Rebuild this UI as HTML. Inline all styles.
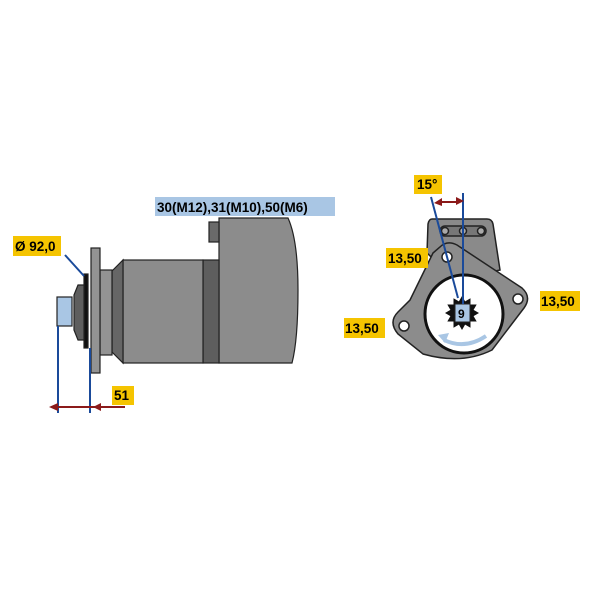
<!DOCTYPE html>
<html><head><style>html,body{margin:0;padding:0;background:#fff}svg{display:block}text{font-family:"Liberation Sans",sans-serif;font-weight:bold}</style></head>
<body>
<svg width="600" height="600" viewBox="0 0 600 600">
<rect width="600" height="600" fill="#fff"/>
<g stroke="#222" stroke-width="1.2">
<path d="M219 218 H288 Q298 240 298 290 Q298 340 292 363 H219 Z" fill="#8c8c8c"/>
<rect x="209" y="222" width="10" height="20" fill="#6a6a6a"/>
<rect x="203" y="260" width="16" height="103" fill="#5e5e5e"/>
<rect x="123" y="260" width="80" height="103" fill="#8c8c8c"/>
<path d="M112 271 L123 260 V363 L112 352 Z" fill="#666"/>
<rect x="100" y="270" width="12" height="85" fill="#939393"/>
<rect x="91" y="248" width="9" height="125" fill="#939393"/>
<rect x="84" y="274" width="4" height="74" fill="#111"/>
<path d="M78 285 H84 V340 H78 L74 330 V295 Z" fill="#5e5e5e"/>
<rect x="57" y="297" width="15" height="29" fill="#a9c6e4"/>
</g>
<g stroke="#1a4a9a" stroke-width="2" fill="none">
<line x1="58" y1="326" x2="58" y2="413"/>
<line x1="90" y1="348" x2="90" y2="413"/>
<line x1="65" y1="255" x2="84" y2="276"/>
</g>
<line x1="52" y1="407" x2="125" y2="407" stroke="#8b1a1a" stroke-width="2"/>
<path d="M49 407 L58 403 V411 Z M93 407 L101 403 V411 Z" fill="#8b1a1a"/>
<rect x="155" y="197" width="180" height="19" fill="#a9c6e4"/>
<text x="157" y="212" font-size="13.5">30(M12),31(M10),50(M6)</text>
<rect x="13" y="236" width="48" height="20" fill="#f5c400"/>
<text x="15" y="251" font-size="13.5">Ø 92,0</text>
<rect x="112" y="386" width="22" height="19" fill="#f5c400"/>
<text x="114" y="400" font-size="13.5">51</text>
<g stroke="#222" stroke-width="1.5">
<path d="M432 219 H487 Q492 219 493 224 L500 270 L455 280 L427 253 L428 224 Q429 219 432 219 Z" fill="#8a8a8a"/>
<path d="M440 247 Q447 240 457 245 L522 288 Q532 297 524 308 L492 350 Q462 365 423 354 L398 334 Q388 322 398 312 L410 300 L433 253 Z" fill="#8c8c8c"/>
<circle cx="464" cy="314" r="39" fill="#fff" stroke="#111" stroke-width="3"/>
<circle cx="447" cy="257" r="5" fill="#fff"/>
<circle cx="518" cy="299" r="5" fill="#fff"/>
<circle cx="404" cy="326" r="5" fill="#fff"/>
<rect x="440" y="226" width="46" height="10" rx="5" fill="#777"/>
<circle cx="445" cy="231" r="3.5" fill="#aaa"/>
<circle cx="463" cy="231" r="3.5" fill="#aaa"/>
<circle cx="481" cy="231" r="3.5" fill="#aaa"/>
</g>
<path d="M444 340 Q465 350 486 336" stroke="#a9c6e4" stroke-width="4" fill="none"/>
<path d="M438 335 L449 333 L445 343 Z" fill="#a9c6e4"/>
<polygon fill="#111" points="479,313 473.6,316.1 476.7,321.5 470.5,321.5 470.5,327.7 465.1,324.6 462,330 458.9,324.6 453.5,327.7 453.5,321.5 447.3,321.5 450.4,316.1 445,313 450.4,309.9 447.3,304.5 453.5,304.5 453.5,298.3 458.9,301.4 462,296 465.1,301.4 470.5,298.3 470.5,304.5 476.7,304.5 473.6,309.9"/>
<rect x="455" y="304" width="15" height="18" fill="#a9c6e4" stroke="#222"/>
<text x="458" y="318" font-size="12">9</text>
<g stroke="#1a4a9a" stroke-width="2">
<line x1="463" y1="193" x2="463" y2="304"/>
<line x1="431" y1="197" x2="458" y2="298"/>
</g>
<line x1="439" y1="202" x2="460" y2="202" stroke="#8b1a1a" stroke-width="2"/>
<path d="M434 203 L442 198 V206 Z M464 201 L456 197 V205 Z" fill="#8b1a1a"/>
<rect x="414" y="175" width="28" height="19" fill="#f5c400"/>
<text x="417" y="189" font-size="13.5">15°</text>
<rect x="386" y="248" width="42" height="20" fill="#f5c400"/>
<text x="388" y="263" font-size="13.5">13,50</text>
<rect x="540" y="291" width="40" height="20" fill="#f5c400"/>
<text x="541" y="306" font-size="13.5">13,50</text>
<rect x="344" y="318" width="41" height="20" fill="#f5c400"/>
<text x="345" y="333" font-size="13.5">13,50</text>
</svg>
</body></html>
